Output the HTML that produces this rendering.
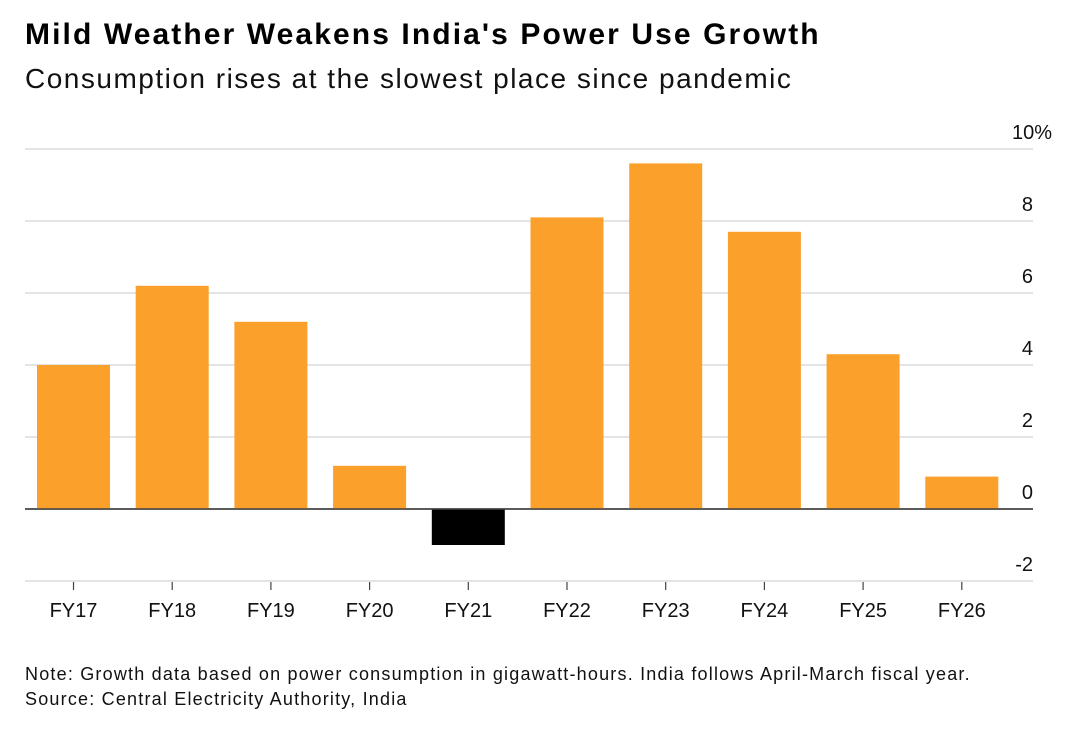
<!DOCTYPE html>
<html><head><meta charset="utf-8"><style>
body{margin:0;background:#fff;font-family:"Liberation Sans",sans-serif;}
#wrap{position:relative;width:1080px;height:731px;overflow:hidden;}
h1{position:absolute;left:25px;top:18px;margin:0;font-size:30px;font-weight:bold;color:#000;letter-spacing:2.1px;white-space:nowrap;}
h2{position:absolute;left:25px;top:63px;margin:0;font-size:28px;font-weight:normal;color:#111;letter-spacing:1.5px;white-space:nowrap;}
.note{position:absolute;left:25px;font-size:18px;color:#111;letter-spacing:1.2px;white-space:nowrap;}
</style></head><body>
<div id="wrap">
<h1>Mild Weather Weakens India's Power Use Growth</h1>
<h2>Consumption rises at the slowest place since pandemic</h2>
<svg id="chart" width="1080" height="731" style="position:absolute;left:0;top:0"></svg>
<div class="note" style="top:664px">Note: Growth data based on power consumption in gigawatt-hours. India follows April-March fiscal year.</div>
<div class="note" style="top:689px">Source: Central Electricity Authority, India</div>
</div>
<script>
const categories=["FY17","FY18","FY19","FY20","FY21","FY22","FY23","FY24","FY25","FY26"];
const values=[4.0,6.2,5.2,1.2,-1.0,8.1,9.6,7.7,4.3,0.9];
const yTicks=[-2,0,2,4,6,8,10];
const yTickLabels=["-2","0","2","4","6","8","10%"];
const NS="http://www.w3.org/2000/svg";
const svg=document.getElementById('chart');
const x0=25,x1=1033,pitch=98.7,barW=73,firstLeft=37;
function y(v){return 509-v*36;}
function xc(i){return firstLeft+barW/2+i*pitch;}
function mk(t,a){const e=document.createElementNS(NS,t);for(const k in a)e.setAttribute(k,a[k]);svg.appendChild(e);return e;}
yTicks.forEach((t,i)=>{
 const l=mk('line',{x1:x0,x2:x1,y1:y(t),y2:y(t),stroke:t===0?'#444':'#d4d4d4','stroke-width':t===0?1.5:1.2});
 
 
 const tx=mk('text',{x:1033,y:y(t)-10,'text-anchor':'end','font-size':20,fill:'#111','font-family':'Liberation Sans, sans-serif'});
 tx.textContent=yTickLabels[i];
 if(t===10){tx.setAttribute('x',1052);}
 
 
});
values.forEach((v,i)=>{
 const top=Math.min(y(v),y(0)),h=Math.abs(y(v)-y(0));
 const r=mk('rect',{x:xc(i)-barW/2,y:top,width:barW,height:h,fill:v<0?'#000':'#fba12b'});
 
 
});
mk('line',{x1:x0,x2:x1,y1:y(0),y2:y(0),stroke:'#444','stroke-width':1.5});
categories.forEach((c,i)=>{
 const tk=mk('line',{x1:xc(i),x2:xc(i),y1:582,y2:590,stroke:'#444','stroke-width':1.2});
 
 
 const tx=mk('text',{x:xc(i),y:617,'text-anchor':'middle','font-size':20,fill:'#111','font-family':'Liberation Sans, sans-serif'});
 tx.textContent=c;
 
 
});
</script>
</body></html>
